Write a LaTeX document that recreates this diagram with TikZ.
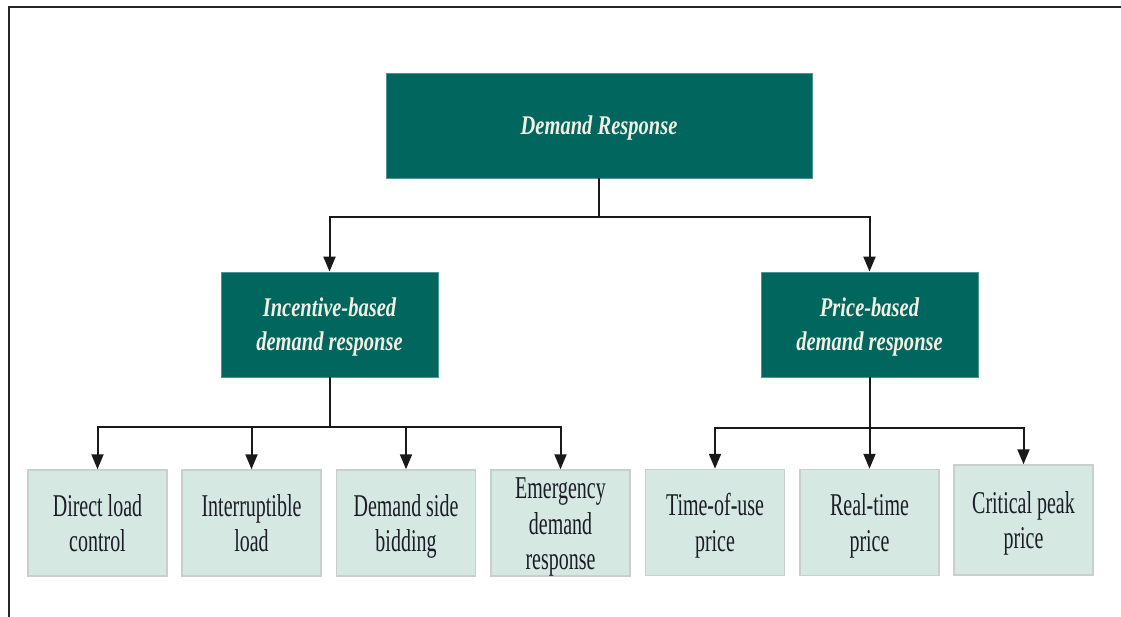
\documentclass[tikz,border=0pt]{standalone}
\usepackage{fontspec}
\setmainfont{Liberation Serif}
\newfontfamily\regcond[FakeStretch=0.63]{Liberation Serif}
\newfontfamily\bicond[FakeStretch=0.76]{Liberation Serif}
\usetikzlibrary{arrows.meta}
\definecolor{teal}{HTML}{00665E}
\definecolor{mint}{HTML}{D5E8E2}
\definecolor{mintedge}{HTML}{C9CFCC}
\definecolor{txtdark}{HTML}{1C1C28}
\definecolor{txtlight}{HTML}{F2F0E4}
\begin{document}
\begin{tikzpicture}[x=1pt,y=-1pt,
  topbox/.style={fill=teal,draw=teal!70!white,line width=0.8pt,inner sep=0pt},
  toptext/.style={inner sep=0pt,yshift=-2.5pt,
    text=txtlight,align=center,font=\bicond\bfseries\itshape\fontsize{27}{34}\selectfont},
  leafbox/.style={fill=mint,draw=mintedge,line width=1.5pt,inner sep=0pt,
    minimum width=139pt,minimum height=106pt},
  leaftext/.style={inner sep=0pt,yshift=-4pt,
    text=txtdark,align=center,font=\regcond\fontsize{31.7}{35.5}\selectfont},
  conn/.style={line width=2pt,draw=black!90},
  arr/.style={conn,-{Triangle[width=12pt,length=15pt]}}
]
\useasboundingbox (0,0) rectangle (1121,617);
\fill[white] (0,0) rectangle (1121,617);
% frame
\draw[line width=2.5pt,black!85] (9,617) -- (9,7) -- (1121,7);

% top
\node[topbox,minimum width=426pt,minimum height=105pt,
  label={[toptext]center:Demand Response}] (dr) at (599,125.5) {};
% middle
\node[topbox,minimum width=217pt,minimum height=105pt,
  label={[toptext]center:Incentive-based\\demand response}] (ib) at (329.5,324.5) {};
\node[topbox,minimum width=217pt,minimum height=105pt,
  label={[toptext]center:Price-based\\demand response}] (pb) at (869.5,324.5) {};
% leaves
\node[leafbox,label={[leaftext]center:\strut Direct load\\control\strut}] (l1) at (97.5,523) {};
\node[leafbox,label={[leaftext]center:\strut Interruptible\\load\strut}] (l2) at (251.5,523) {};
\node[leafbox,label={[leaftext]center:\strut Demand side\\bidding\strut}] (l3) at (406,523) {};
\node[leafbox,label={[leaftext]center:\strut Emergency\\demand\\response\strut}] (l4) at (560.5,523) {};
\node[leafbox,label={[leaftext]center:\strut Time-of-use\\price\strut}] (l5) at (715,522.5) {};
\node[leafbox,label={[leaftext]center:\strut Real-time\\price\strut}] (l6) at (869.5,522.5) {};
\node[leafbox,minimum height=110pt,label={[leaftext]center:\strut Critical peak\\price\strut}] (l7) at (1023.5,520) {};

% connectors top
\coordinate (j0) at (599,217);
\draw[conn] (dr.south) -- (j0);
\draw[arr] (j0) -| (ib.north);
\draw[arr] (j0) -| (pb.north);

% connectors left group
\coordinate (j1) at (329.5,427);
\draw[conn] (ib.south) -- (j1);
\draw[arr] (j1) -| (l1.north);
\draw[arr] (j1) -| (l2.north);
\draw[arr] (j1) -| (l3.north);
\draw[arr] (j1) -| (l4.north);

% connectors right group
\coordinate (j2) at (869.5,428);
\draw[arr] (pb.south) -- (l6.north);
\draw[arr] (j2) -| (l5.north);
\draw[arr] (j2) -| (l7.north);
\end{tikzpicture}
\end{document}
